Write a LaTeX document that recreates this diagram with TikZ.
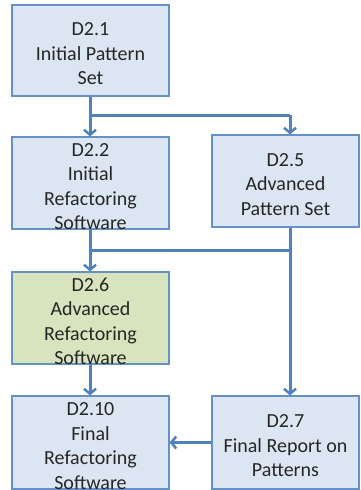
\documentclass[tikz,border=0pt]{standalone}
\usepackage{fontspec}
\setmainfont{Carlito}
\usetikzlibrary{arrows.meta}
\definecolor{lineblue}{RGB}{79,129,189}
\definecolor{boxblue}{RGB}{220,230,242}
\definecolor{boxgreen}{RGB}{215,228,189}
\definecolor{edgeblue}{RGB}{100,145,200}
\tikzset{
  dbox/.style={draw=edgeblue, line width=1.2pt, fill=boxblue, rectangle, inner sep=0pt},
  txt/.style={inner sep=0pt, align=center, font=\fontsize{20}{24.5}\selectfont, text=black!85},
  conn/.style={draw=lineblue, line width=3pt},
  arr/.style={conn, -{Straight Barb[length=5pt,width=12pt,line width=2.5pt]}}
}
\begin{document}
\begin{tikzpicture}[x=1pt,y=-1pt]
\useasboundingbox (0,0) rectangle (360,490);
\node[dbox, minimum width=157pt, minimum height=91pt] (d21) at (90.5,50.5) {};
\node[dbox, minimum width=157pt, minimum height=92pt] (d22) at (90.5,183) {};
\node[dbox, minimum width=147pt, minimum height=92pt] (d25) at (285.5,181) {};
\node[dbox, fill=boxgreen, minimum width=157pt, minimum height=92pt] (d26) at (90.5,318) {};
\node[dbox, minimum width=157pt, minimum height=93pt] (d210) at (90.5,442.5) {};
\node[dbox, minimum width=147pt, minimum height=93pt] (d27) at (285.5,442.5) {};
\node[txt] (t21) at ([yshift=-3.5pt]d21.center) {D2.1\\Initial Pattern\\Set};
\node[txt] (t22) at ([yshift=-3.5pt]d22.center) {D2.2\\Initial\\Refactoring\\Software};
\node[txt] (t25) at ([yshift=-3.5pt]d25.center) {D2.5\\Advanced\\Pattern Set};
\node[txt] (t26) at ([yshift=-3.5pt]d26.center) {D2.6\\Advanced\\Refactoring\\Software};
\node[txt] (t210) at ([yshift=-3.5pt]d210.center) {D2.10\\Final\\Refactoring\\Software};
\node[txt] (t27) at ([yshift=-3.5pt]d27.center) {D2.7\\Final Report on\\Patterns};
\coordinate (j1) at (90,115);
\coordinate (j2) at (290,115);
\coordinate (j3) at (90,250);
\coordinate (j4) at (290,250);
\draw[conn] (d21.south -| j1) -- (j1) -- (j2);
\draw[arr] (j1) -- (d22.north -| j1);
\draw[arr] (j2) -- (d25.north -| j2);
\draw[conn] (d22.south -| j3) -- (j3) -- (j4);
\draw[arr] (d25.south -| j4) -- (d27.north -| j4);
\draw[arr] (j3) -- (d26.north -| j3);
\draw[arr] (d26.south -| j3) -- (d210.north -| j3);
\draw[arr] (d27.west) -- (d210.east);
\end{tikzpicture}
\end{document}
